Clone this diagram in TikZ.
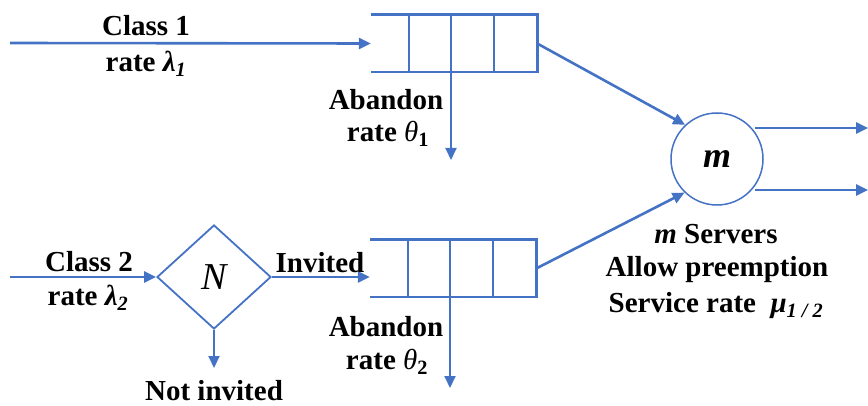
\documentclass[tikz,border=0pt]{standalone}
\usepackage{fontspec}
\setmainfont{Liberation Serif}
\usetikzlibrary{arrows.meta,shapes.geometric,calc}
\definecolor{qblue}{HTML}{4472C4}
\tikzset{
  lbl/.style={font=\fontsize{29}{35}\selectfont\bfseries, inner sep=0pt, align=center},
  arr/.style={draw=qblue, line width=2.6pt, -{Triangle[length=12pt,width=11pt]}},
  thinarr/.style={draw=qblue, line width=2pt, -{Triangle[length=12pt,width=11pt]}},
  qline/.style={draw=qblue, line width=2.6pt},
  qbox/.style={rectangle, minimum width=166pt, minimum height=57pt, inner sep=0pt, draw=none},
}
\begin{document}
\begin{tikzpicture}[x=1pt,y=-1pt]
\useasboundingbox (0,0) rectangle (868,406);
% queues
\node[qbox] (q1) at (454,43.5) {};
\node[qbox] (q2) at (453,268.5) {};
\foreach \q in {q1,q2}{
  \draw[qline] (\q.north west) -- (\q.north east) -- (\q.south east) -- (\q.south west);
  \foreach \f in {0.229,0.482,0.741}{
    \draw[qline] ($(\q.north west)!\f!(\q.north east)$) -- ($(\q.south west)!\f!(\q.south east)$);
  }
}
% server
\node[circle, draw=qblue, line width=1.5pt, minimum size=92pt, inner sep=0pt,
      font=\fontsize{36}{40}\selectfont\bfseries\itshape] (c) at (717,159) {m};
% decision
\node[diamond, draw=qblue, line width=1.8pt, minimum width=114pt, minimum height=104pt, inner sep=0pt,
      font=\fontsize{38}{40}\selectfont\itshape] (d) at (214,277) {N};
% coordinates
\coordinate (s1) at (10,43);
\coordinate (s2) at (10,277);
\coordinate (e1) at (868,128);
\coordinate (e2) at (868,190);
\coordinate (o1) at (755,128);
\coordinate (o2) at (755,190);
\coordinate (a1) at (451,160);
\coordinate (a2) at (450,388);
\coordinate (ni) at (214,368);
% connectors
\draw[arr] (s1) -- (q1.west);
\draw[arr] (s2) -- (d.west);
\draw[arr] (d.east) -- (q2.west |- d.east);
\draw[thinarr] (d.south) -- (ni);
\draw[thinarr] (a1 |- q1.south) -- (a1);
\draw[thinarr] (a2 |- q2.south) -- (a2);
\draw[arr] (q1.east) -- (c.133);
\draw[arr] (q2.east) -- (c.226);
\draw[arr] (o1) -- (e1);
\draw[arr] (o2) -- (e2);
% labels
\node[lbl] (t1) at (146,26) {Class 1};
\node[lbl] (t2) at (146,64) {rate \textit{λ\textsubscript{1}}};
\node[lbl] (t3) at (386,100) {Abandon};
\node[lbl] (t4) at (388,134) {rate \textmd{\textit{θ}}\textsubscript{1}};
\node[lbl] (t5) at (89,262) {Class 2};
\node[lbl] (t6) at (88,298) {rate \textit{λ\textsubscript{2}}};
\node[lbl] (t7) at (320,263) {Invited};
\node[lbl] (t8) at (386,327) {Abandon};
\node[lbl] (t9) at (387,362) {rate \textmd{\textit{θ}}\textsubscript{2}};
\node[lbl] (t10) at (214,391) {Not invited};
\node[lbl] (t11) at (716,234) {\textit{m} Servers};
\node[lbl] (t12) at (717,270) {Allow preemption};
\node[lbl] (t13) at (716,306) {Service rate~~\textit{μ\textsubscript{1 / 2}}};
\end{tikzpicture}
\end{document}
